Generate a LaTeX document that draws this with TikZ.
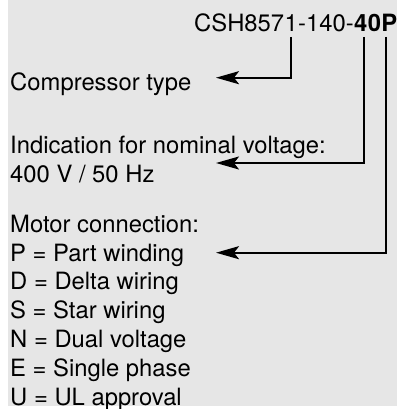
\documentclass[tikz,border=0pt]{standalone}
\usepackage{fontspec}
\setmainfont{TeX Gyre Heros}
\usepackage{xcolor}
\usetikzlibrary{positioning, arrows.meta}
\definecolor{panelgray}{RGB}{230,230,230}

\begin{document}
\begin{tikzpicture}[
    x=1pt, y=-1pt,
    code/.style={inner sep=0pt, anchor=base west, font=\fontsize{23.8}{28.8}\selectfont},
    txt/.style={inner sep=0pt, anchor=base west, align=left, font=\fontsize{23.8}{28.8}\selectfont},
    pointer/.style={-{Stealth[length=23pt, width=13pt, inset=5pt]}, line width=2.2pt}
]
\useasboundingbox (0,0) rectangle (397,409);
\fill[panelgray] (8,0) rectangle (397,406);

% type designation, split where the pointers start
\node[code] (c1) at (194,32) {CSH857};
\node[code] (ctype) at (c1.base east) {1};
\node[code] (c2) at (ctype.base east) {-140-};
\node[code] (cvolt) at (c2.base east) {\bfseries 4};
\node[code] (c3) at (cvolt.base east) {\bfseries 0};
\node[code] (cmotor) at (c3.base east) {\bfseries P};

% explanations (base = last line)
\node[txt] (type) at (10,91) {Compressor type};
\node[txt] (volt) at (10,182) {Indication for nominal voltage:\\400 V / 50 Hz};
\node[txt] (motor) at (10,405) {Motor connection:\\P = Part winding\\D = Delta wiring\\S = Star wiring\\N = Dual voltage\\E = Single phase\\U = UL approval};

% pointer ends
\coordinate (typetip) at (216,77.7);
\coordinate (volttip) at (216,163);
\coordinate (motortip) at (216,252.7);

\draw[pointer] ([yshift=-5pt]ctype.base) |- (typetip);
\draw[pointer] ([xshift=3pt, yshift=-5pt]cvolt.base) |- (volttip);
\draw[pointer] ([xshift=-3pt, yshift=-5pt]cmotor.base) |- (motortip);
\end{tikzpicture}
\end{document}
